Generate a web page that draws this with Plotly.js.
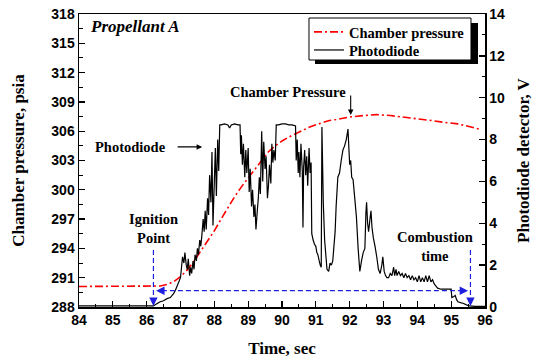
<!DOCTYPE html>
<html>
<head>
<meta charset="utf-8">
<script src="https://cdn.plot.ly/plotly-3.0.1.min.js"></script>
<style>html,body{margin:0;padding:0;background:#fff;}#chart{width:535px;height:359px;}</style>
</head>
<body>
<div id="chart"></div>
<script>
// ---- data ----
var pressureTime = [84.0, 84.5, 85.0, 85.5, 86.0, 86.4, 86.6, 86.8, 87.0, 87.2, 87.4, 87.6, 87.8, 88.0, 88.2, 88.4, 88.6, 88.8, 89.0, 89.2, 89.4, 89.6, 89.8, 90.0, 90.2, 90.4, 90.6, 90.8, 91.0, 91.2, 91.4, 91.6, 91.8, 92.0, 92.4, 92.8, 93.2, 93.6, 94.0, 94.4, 94.8, 95.2, 95.5, 95.85];
var pressurePsia = [290.1, 290.1, 290.1, 290.1, 290.1, 290.15, 290.3, 290.6, 291.1, 291.8, 292.7, 293.7, 294.7, 295.8, 297.0, 298.2, 299.3, 300.3, 301.2, 302.2, 303.1, 303.9, 304.5, 305.0, 305.4, 305.75, 306.1, 306.4, 306.65, 306.9, 307.1, 307.2, 307.35, 307.45, 307.6, 307.7, 307.6, 307.45, 307.3, 307.1, 306.9, 306.75, 306.5, 306.2];

var diodeTime = [84.0, 84.5, 85.0, 85.5, 86.0, 86.2, 86.3, 86.4, 86.5, 86.6, 86.7, 86.8, 86.85, 86.9, 86.95, 87.0, 87.03, 87.06, 87.1, 87.13, 87.17, 87.2, 87.23, 87.27, 87.3, 87.33, 87.37, 87.4, 87.43, 87.47, 87.5, 87.53, 87.57, 87.6, 87.63, 87.67, 87.7, 87.73, 87.76, 87.8, 87.83, 87.86, 87.9, 87.93, 87.96, 88.0, 88.03, 88.06, 88.1, 88.13, 88.16, 88.2, 88.3, 88.4, 88.45, 88.5, 88.6, 88.7, 88.76, 88.78, 88.8, 88.83, 88.86, 88.9, 88.93, 88.96, 89.0, 89.03, 89.06, 89.1, 89.13, 89.17, 89.2, 89.23, 89.27, 89.3, 89.33, 89.36, 89.4, 89.43, 89.46, 89.5, 89.53, 89.57, 89.6, 89.63, 89.67, 89.7, 89.73, 89.76, 89.8, 89.83, 89.9, 90.0, 90.1, 90.2, 90.3, 90.4, 90.42, 90.45, 90.48, 90.5, 90.53, 90.56, 90.6, 90.62, 90.64, 90.67, 90.7, 90.73, 90.76, 90.8, 90.83, 90.86, 90.88, 90.92, 90.96, 91.0, 91.03, 91.06, 91.1, 91.13, 91.16, 91.18, 91.22, 91.26, 91.3, 91.33, 91.38, 91.42, 91.46, 91.5, 91.53, 91.57, 91.6, 91.65, 91.7, 91.75, 91.8, 91.85, 91.9, 91.95, 92.0, 92.03, 92.06, 92.1, 92.15, 92.2, 92.25, 92.3, 92.35, 92.4, 92.45, 92.48, 92.5, 92.53, 92.56, 92.6, 92.63, 92.66, 92.7, 92.75, 92.8, 92.85, 92.9, 92.95, 92.98, 93.02, 93.06, 93.1, 93.15, 93.2, 93.25, 93.3, 93.33, 93.37, 93.4, 93.45, 93.5, 93.55, 93.6, 93.65, 93.7, 93.75, 93.8, 93.85, 93.9, 93.95, 94.0, 94.05, 94.1, 94.15, 94.2, 94.25, 94.3, 94.35, 94.4, 94.45, 94.5, 94.55, 94.6, 94.7, 94.8, 94.9, 95.0, 95.02, 95.08, 95.12, 95.16, 95.2, 95.3, 95.35, 95.45, 95.55, 95.7, 96.0];
var diodeVolt = [0.05, 0.05, 0.05, 0.05, 0.05, 0.05, 0.15, 0.25, 0.3, 0.4, 0.45, 0.65, 0.8, 1.0, 1.2, 1.4, 1.9, 2.4, 2.1, 2.6, 2.0, 1.8, 2.3, 1.5, 1.9, 1.6, 2.2, 1.8, 2.5, 2.2, 2.8, 2.5, 3.2, 2.9, 3.4, 4.2, 3.6, 4.6, 3.7, 5.2, 4.4, 6.3, 5.0, 7.4, 3.9, 6.0, 7.6, 5.3, 8.0, 6.5, 8.7, 8.7, 8.75, 8.7, 8.55, 8.7, 8.75, 8.7, 8.7, 7.3, 8.2, 6.8, 7.8, 6.2, 7.5, 6.4, 7.6, 5.5, 6.6, 4.8, 5.6, 4.3, 4.9, 3.7, 4.6, 5.2, 6.2, 5.4, 8.4, 6.0, 7.9, 6.6, 7.2, 5.2, 5.8, 6.8, 5.9, 7.8, 6.9, 7.5, 7.0, 8.7, 8.7, 8.75, 8.75, 8.7, 8.7, 8.65, 7.0, 8.0, 6.4, 7.4, 6.2, 7.8, 6.5, 3.8, 6.7, 7.5, 6.3, 7.2, 5.8, 7.6, 6.4, 6.9, 3.5, 3.2, 3.0, 2.9, 2.6, 2.5, 2.2, 2.0, 1.9, 8.6, 5.0, 3.2, 2.4, 1.8, 1.7, 2.1, 2.0, 2.2, 2.8, 3.6, 4.8, 6.2, 6.4, 7.0, 7.5, 7.7, 8.0, 8.5, 6.8, 7.0, 6.2, 6.1, 5.2, 4.3, 2.8, 1.7, 2.2, 2.6, 2.8, 4.5, 5.0, 4.0, 3.6, 4.2, 4.6, 3.8, 3.3, 2.9, 2.4, 1.8, 1.6, 2.0, 2.4, 1.7, 1.5, 1.4, 1.4, 1.6, 1.5, 1.9, 1.5, 1.8, 1.5, 1.7, 1.5, 1.6, 1.4, 1.6, 1.4, 1.5, 1.3, 1.5, 1.3, 1.4, 1.2, 1.5, 1.2, 1.4, 1.2, 1.5, 1.2, 1.5, 1.2, 1.3, 1.1, 1.0, 0.9, 0.85, 0.85, 0.85, 0.85, 0.45, 0.5, 0.55, 0.35, 0.25, 0.2, 0.18, 0.1, 0.05, 0.03, 0.03];

var seriesNames = ['Chamber pressure', 'Photodiode'];
var ignitionTime = 86.2;
var burnoutTime = 95.57;
var markerLevelV = 0.78;

// ---- styling ----
var serif = 'Liberation Serif, Times New Roman, serif';
var sans = 'Liberation Sans, Arial, sans-serif';
var blue = '#1f1fe0';

var traces = [
  {x: pressureTime, y: pressurePsia, name: seriesNames[0], type: 'scatter', mode: 'lines',
   line: {color: '#ff0000', width: 1.6, dash: '8px,3px,2px,3px'}, yaxis: 'y', legend: 'legend'},
  {x: diodeTime, y: diodeVolt, name: seriesNames[1], type: 'scatter', mode: 'lines',
   line: {color: '#000000', width: 1.2, simplify: false}, yaxis: 'y2', legend: 'legend2'}
];

var tickFont = {family: sans, size: 14, color: '#000', weight: 700};
var titleFont = {family: serif, size: 17, color: '#000', weight: 700};
var annFont = {family: serif, size: 14.5, color: '#000', weight: 700};

function arrowHead(x, y, yref, ax, ay, color) {
  return {x: x, y: y, xref: 'x', yref: yref, text: '', showarrow: true, arrowhead: 2,
          arrowsize: 1.2, arrowwidth: 1.4, arrowcolor: color, ax: ax, ay: ay};
}
function legendBox(yc) {
  return {x: 0.5665, y: yc, xanchor: 'left', yanchor: 'middle', bgcolor: 'rgba(0,0,0,0)',
          borderwidth: 0, font: {family: serif, size: 14.5, color: '#000', weight: 700}};
}

var layout = {
  width: 535, height: 359,
  margin: {l: 79, r: 50, t: 14, b: 52},
  font: {family: serif, size: 14.5, color: '#000', weight: 700},
  paper_bgcolor: '#fff', plot_bgcolor: '#fff',
  showlegend: true,
  legend: legendBox(0.9386),
  legend2: legendBox(0.877),
  xaxis: {range: [84, 96], dtick: 1, tick0: 84, ticks: 'inside', ticklen: 6, tickwidth: 1.3,
          tickcolor: '#000', showline: true, linewidth: 1.5, linecolor: '#000', mirror: true,
          showgrid: false, zeroline: false, tickfont: tickFont,
          minor: {dtick: 0.5, ticks: 'inside', ticklen: 3.5, tickwidth: 1, tickcolor: '#000'},
          title: {text: 'Time, sec', font: titleFont, standoff: 15}},
  yaxis: {range: [288, 318], dtick: 3, tick0: 288, ticks: 'inside', ticklen: 6, tickwidth: 1.3,
          tickcolor: '#000', showline: true, linewidth: 1.5, linecolor: '#000',
          showgrid: false, zeroline: false, tickfont: tickFont,
          minor: {dtick: 1.5, ticks: 'inside', ticklen: 3.5, tickwidth: 1, tickcolor: '#000'},
          title: {text: 'Chamber pressure, psia', font: titleFont, standoff: 22}},
  yaxis2: {range: [0, 14], dtick: 2, tick0: 0, overlaying: 'y', side: 'right', ticks: 'inside',
           ticklen: 6, tickwidth: 1.3, tickcolor: '#000', showline: true, linewidth: 1.5,
           linecolor: '#000', showgrid: false, zeroline: false, tickfont: tickFont,
           minor: {dtick: 1, ticks: 'inside', ticklen: 3.5, tickwidth: 1, tickcolor: '#000'},
           title: {text: 'Photodiode detector, V', font: titleFont, standoff: 13}},
  shapes: [
    {type: 'rect', xref: 'paper', yref: 'paper', x0: 0.5813, x1: 0.9828, y0: 0.8294, y1: 0.9693,
     fillcolor: '#000', line: {width: 0}, layer: 'above'},
    {type: 'rect', xref: 'paper', yref: 'paper', x0: 0.5665, x1: 0.9655, y0: 0.843, y1: 0.9863,
     fillcolor: '#fff', line: {color: '#000', width: 1}, layer: 'above'},
    {type: 'line', xref: 'x', yref: 'y2', x0: 86.45, x1: 95.3, y0: markerLevelV, y1: markerLevelV,
     line: {color: blue, width: 1.2, dash: '5px,3px'}},
    {type: 'line', xref: 'x', yref: 'y2', x0: ignitionTime, x1: ignitionTime, y0: 2.72, y1: 0.45,
     line: {color: blue, width: 1.2, dash: '5px,3px'}},
    {type: 'line', xref: 'x', yref: 'y2', x0: burnoutTime, x1: burnoutTime, y0: 2.72, y1: 0.45,
     line: {color: blue, width: 1.2, dash: '5px,3px'}}
  ],
  annotations: [
    {x: 84.27, y: 316.67, xref: 'x', yref: 'y', xanchor: 'left', yanchor: 'middle', showarrow: false,
     text: '<i>Propellant A</i>', font: {family: serif, size: 17, color: '#000', weight: 700}},
    {x: 86.63, y: 304.39, xref: 'x', yref: 'y', xanchor: 'right', yanchor: 'middle', showarrow: false,
     text: 'Photodiode', font: annFont},
    {x: 87.64, y: 304.39, xref: 'x', yref: 'y', text: '', showarrow: true, arrowhead: 2,
     arrowsize: 1, arrowwidth: 1.1, arrowcolor: '#000', ax: -26, ay: 0},
    {x: 90.19, y: 310.02, xref: 'x', yref: 'y', xanchor: 'center', yanchor: 'middle', showarrow: false,
     text: 'Chamber Pressure', font: annFont},
    {x: 92.03, y: 307.66, xref: 'x', yref: 'y', text: '', showarrow: true, arrowhead: 2,
     arrowsize: 1, arrowwidth: 1.1, arrowcolor: '#000', ax: 0, ay: -21},
    {x: 86.19, y: 296.04, xref: 'x', yref: 'y', xanchor: 'center', yanchor: 'middle', showarrow: false,
     text: 'Ignition<br>Point', font: annFont},
    {x: 94.52, y: 294.2, xref: 'x', yref: 'y', xanchor: 'center', yanchor: 'middle', showarrow: false,
     text: 'Combustion<br>time', font: annFont},
    arrowHead(86.28, markerLevelV, 'y2', 9, 0, blue),
    arrowHead(95.5, markerLevelV, 'y2', -9, 0, blue),
    arrowHead(ignitionTime, 0.05, 'y2', 0, -9, blue),
    arrowHead(burnoutTime, 0.05, 'y2', 0, -9, blue)
  ]
};

Plotly.newPlot('chart', traces, layout, {displayModeBar: false, staticPlot: true});
</script>
</body>
</html>
